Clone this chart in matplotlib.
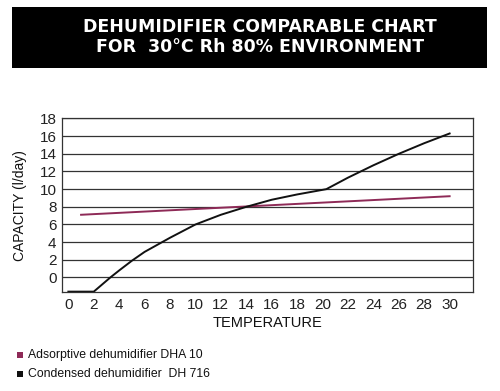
"""Dehumidifier comparison chart: capacity vs temperature."""

import matplotlib

matplotlib.use("Agg")
import matplotlib.pyplot as plt
from matplotlib.patches import Rectangle

plt.rcParams["font.family"] = ["Liberation Sans", "DejaVu Sans"]

# adsorptive unit (DHA 10): nearly flat
ads_temp = [1, 30]
ads_capacity = [7.1, 9.2]

# condensed unit (DH 716): nothing below ~2 degrees, then climbs
cond_temp = [0, 2, 3.3, 4, 5, 6, 7, 8, 10, 12, 14, 16, 18, 20.3, 22, 24, 26, 28, 30]
cond_capacity = [-1.6, -1.6, 0, 0.8, 1.9, 2.9, 3.7, 4.5, 6.0, 7.1, 8.0, 8.8, 9.4, 10.0,
                 11.3, 12.7, 14.0, 15.2, 16.3]

x_ticks = list(range(0, 31, 2))
y_ticks = list(range(0, 19, 2))

title_lines = "DEHUMIDIFIER COMPARABLE CHART\nFOR  30°C Rh 80% ENVIRONMENT"
legend_labels = ["Adsorptive dehumidifier DHA 10", "Condensed dehumidifier  DH 716"]
ads_color = "#8e2a57"
cond_color = "#111111"

fig = plt.figure(figsize=(5.0, 3.91), dpi=100)

# black title banner
fig.patches.append(Rectangle((0.024, 0.826), 0.95, 0.155, transform=fig.transFigure,
                             facecolor="black", edgecolor="none"))
fig.text(0.52, 0.905, title_lines, ha="center", va="center", color="white",
         fontsize=12.5, fontweight="heavy", linespacing=1.1,
         family=["DejaVu Sans"])

ax = fig.add_axes([0.124, 0.253, 0.821, 0.444])
ax.plot(ads_temp, ads_capacity, color=ads_color, lw=1.4)
ax.plot(cond_temp, cond_capacity, color=cond_color, lw=1.4)

ax.set_xlim(-0.5, 31.8)
ax.set_ylim(-1.65, 18)
ax.set_xticks(x_ticks)
ax.set_yticks(y_ticks)
ax.tick_params(length=0, labelsize=11, colors="#222222", pad=4)
ax.yaxis.grid(True, color="#333333", lw=0.9)
ax.set_axisbelow(True)
for s in ax.spines.values():
    s.set_color("#333333")
    s.set_linewidth(0.9)

ax.set_xlabel("TEMPERATURE", fontsize=10.5, labelpad=3, color="#111111")
ax.set_ylabel("CAPACITY (l/day)", fontsize=10, labelpad=9, color="#111111")

# legend drawn as small squares plus text, like the original
for i, (lab, col) in enumerate(zip(legend_labels, [ads_color, cond_color])):
    yy = 0.093 - i * 0.049
    fig.patches.append(Rectangle((0.034, yy - 0.008), 0.011, 0.015,
                                 transform=fig.transFigure, facecolor=col,
                                 edgecolor="none"))
    fig.text(0.056, yy, lab, ha="left", va="center", fontsize=8.8, color="#111111")

fig.savefig("out.png", dpi=100)
